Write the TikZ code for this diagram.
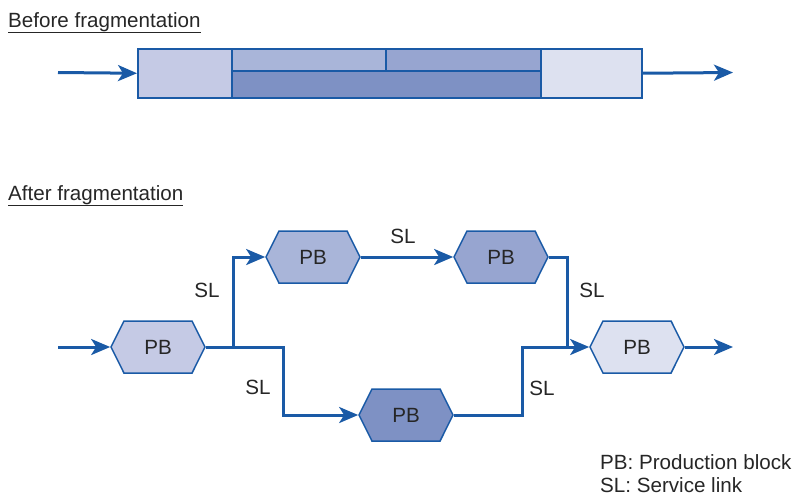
\documentclass[tikz,border=0pt]{standalone}
\usepackage{fontspec}
\setmainfont{Liberation Sans}
\usetikzlibrary{arrows.meta,shapes.symbols}

\definecolor{linkblue}{HTML}{1A5AA6}
\definecolor{fillA}{HTML}{C5CAE5}
\definecolor{fillB}{HTML}{A9B5D9}
\definecolor{fillC}{HTML}{97A5D0}
\definecolor{fillD}{HTML}{7E91C4}
\definecolor{fillE}{HTML}{DDE1F0}
\definecolor{inkgray}{HTML}{262626}

\begin{document}
\begin{tikzpicture}[x=1pt,y=-1pt,>={Stealth[length=19pt,width=16pt,inset=5pt]},
  font=\fontsize{20.6}{24}\selectfont,text=inkgray,
  seg/.style={draw=linkblue,line width=1.5pt,anchor=north west,inner sep=0pt},
  pb/.style={signal,signal to=west and east,signal pointer angle=127,
    draw=linkblue,line width=1.5pt,minimum width=94pt,minimum height=52pt,inner sep=0pt},
  flow/.style={draw=linkblue,line width=3pt,line join=miter},
  lab/.style={inner sep=0pt}]
  \useasboundingbox (0,0) rectangle (798,496);

  % before fragmentation
  \node[lab,anchor=base west] (titleA) at (8,27) {\underline{Before fragmentation}};
  \node[seg,fill=fillA,minimum width=94pt,minimum height=49pt] (s1) at (137,48) {};
  \node[seg,fill=fillB,minimum width=154pt,minimum height=22pt] (s2) at (231,48) {};
  \node[seg,fill=fillC,minimum width=155pt,minimum height=22pt] (s3) at (385,48) {};
  \node[seg,fill=fillD,minimum width=309pt,minimum height=27pt] (s4) at (231,70) {};
  \node[seg,fill=fillE,minimum width=101pt,minimum height=49pt] (s5) at (540,48) {};
  \coordinate (inA) at (58,72.5);
  \coordinate (outA) at (733,72.5);
  \draw[flow,->] (inA) -- (s1.west);
  \draw[flow,->] (s5.east) -- (outA);

  % after fragmentation
  \node[lab,anchor=base west] (titleB) at (8,200) {\underline{After fragmentation}};
  \node[pb,fill=fillA] (pb1) at (158,347) {PB};
  \node[pb,fill=fillB] (pb2) at (313,257) {PB};
  \node[pb,fill=fillC] (pb3) at (501,257) {PB};
  \node[pb,fill=fillD] (pb4) at (406,415) {PB};
  \node[pb,fill=fillE] (pb5) at (637,347) {PB};

  \coordinate (inB) at (58,347);
  \coordinate (outB) at (733,347);
  \coordinate (split) at (233,347);
  \coordinate (down) at (283,347);
  \coordinate (up) at (522,415);
  \coordinate (merge) at (567,347);

  \draw[flow,->] (inB) -- (pb1.west);
  \draw[flow] (pb1.east) -- (split);
  \draw[flow,->] (split) |- (pb2.west);
  \draw[flow,->] (split) -- (down) |- (pb4.west);
  \draw[flow,->] (pb2.east) -- (pb3.west);
  \draw[flow] (pb3.east) -| (merge);
  \draw[flow] (pb4.east) -- (up) |- (merge);
  \draw[flow,->] (merge) -- (pb5.west);
  \draw[flow,->] (pb5.east) -- (outB);

  \node[lab] (sl1) at (207,290) {SL};
  \node[lab] (sl2) at (258,387) {SL};
  \node[lab] (sl3) at (403,236) {SL};
  \node[lab] (sl4) at (592,290) {SL};
  \node[lab] (sl5) at (542,388) {SL};

  % legend
  \node[lab,anchor=base west] (legA) at (600,469) {PB: Production block};
  \node[lab,anchor=base west] (legB) at (600,492) {SL: Service link};
\end{tikzpicture}
\end{document}
